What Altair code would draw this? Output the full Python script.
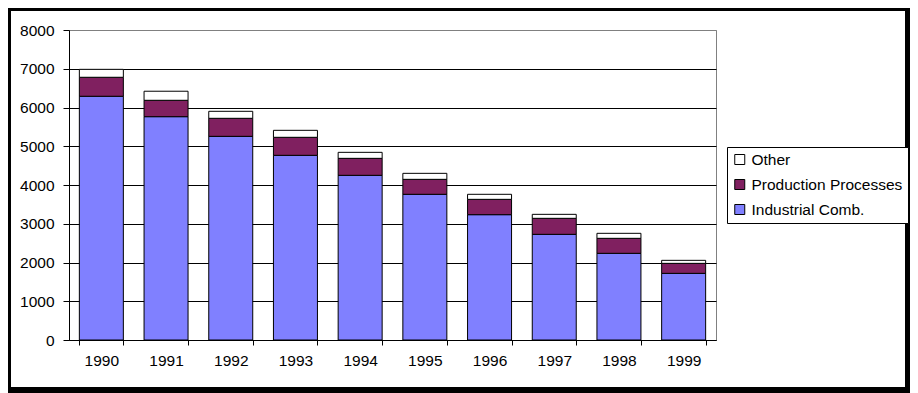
import altair as alt
import pandas as pd

years = ["1990", "1991", "1992", "1993", "1994", "1995", "1996", "1997", "1998", "1999"]
industrial = [6290, 5763, 5256, 4766, 4250, 3760, 3234, 2727, 2237, 1720]
production = [490, 423, 465, 465, 438, 386, 396, 413, 387, 258]
other = [205, 234, 181, 180, 155, 155, 130, 103, 129, 78]

series_names = ["Other", "Production Processes", "Industrial Comb."]
series_colors = ["#FFFFFF", "#802060", "#8080FF"]
y_ticks = [0, 1000, 2000, 3000, 4000, 5000, 6000, 7000, 8000]

rows = []
for i, yr in enumerate(years):
    rows.append({"year": yr, "series": "Industrial Comb.", "value": industrial[i], "ord": 0})
    rows.append({"year": yr, "series": "Production Processes", "value": production[i], "ord": 1})
    rows.append({"year": yr, "series": "Other", "value": other[i], "ord": 2})
df = pd.DataFrame(rows)

FONT = "Liberation Sans"
W, H = 647, 310

bars = alt.Chart(df).mark_bar(stroke="black", strokeWidth=1).encode(
    x=alt.X("year:N", title=None, sort=years,
            scale=alt.Scale(paddingInner=0.32, paddingOuter=0.16, round=False),
            axis=alt.Axis(labelAngle=0, tickBand="extent", tickSize=5, tickColor="black",
                          domainColor="black", labelFont=FONT, labelFontSize=15.5,
                          labelColor="black", labelPadding=8, grid=False)),
    y=alt.Y("value:Q", title=None, stack="zero",
            scale=alt.Scale(domain=[0, 8000], nice=False),
            axis=alt.Axis(values=y_ticks, format="d", tickSize=6, tickColor="black",
                          domainColor="black",
                          labelFont=FONT, labelFontSize=15.5, labelColor="black",
                          labelPadding=9, grid=True,
                          gridColor={"condition": {"test": "datum.value === 8000", "value": "#808080"},
                                     "value": "black"},
                          gridWidth=1)),
    color=alt.Color("series:N",
                    scale=alt.Scale(domain=series_names, range=series_colors),
                    legend=alt.Legend(title=None, orient="none", legendX=658, legendY=117,
                                      strokeColor="black", fillColor="white", padding=5,
                                      cornerRadius=0, symbolType="square", symbolSize=100,
                                      symbolStrokeColor="black", symbolStrokeWidth=1,
                                      labelFont=FONT, labelFontSize=15.5, labelColor="black",
                                      clipHeight=15, rowPadding=9, labelOffset=4)),
    order=alt.Order("ord:Q", sort="ascending"),
)

frame_df = pd.DataFrame([{"k": 1}])
def strip(x1, x2, y1, y2):
    return alt.Chart(frame_df).mark_rect(color="black").encode(
        x=alt.value(x1), x2=alt.value(x2), y=alt.value(y1), y2=alt.value(y2))

# decorative outer frame (pixel positions relative to the plot origin)
frame = (strip(836, 841, -22, 363) + strip(-61, 841, 357, 363)
         + strip(-61, -58, -22, 363) + strip(-61, 841, -22, -19))

chart = alt.layer(bars, frame).properties(
    width=W, height=H,
    autosize=alt.AutoSizeParams(type="none"),
    padding={"left": 61, "top": 22, "right": 194, "bottom": 53},
    background="white",
).configure_view(stroke="#808080", strokeWidth=1)

chart.save("out.html", embed_options={"renderer": "svg", "actions": False})
